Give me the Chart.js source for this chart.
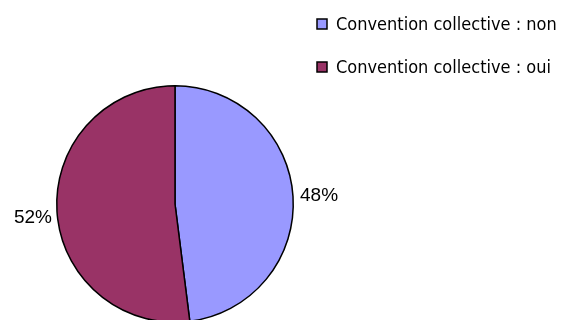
<!DOCTYPE html>
<html>
<head>
<meta charset="utf-8">
<script src="https://cdn.jsdelivr.net/npm/chart.js@4.4.0/dist/chart.umd.min.js"></script>
<style>
    html, body { margin: 0; padding: 0; background: #ffffff; overflow: hidden; }
    /* a bit taller than the window so the bottom of the pie is cut off */
    #chartBox { width: 569px; height: 325px; }
</style>
</head>
<body>
<div id="chartBox"><canvas id="pieChartCanvas"></canvas></div>
<script>
// Data for the pie
var labels = ['Convention collective : non', 'Convention collective : oui'];
var percentages = [48, 52];
var sliceColors = ['#9999FF', '#993366'];

// Plugin to draw the percent labels beside each slice
var percentLabels = {
    id: 'percentLabels',
    afterDatasetsDraw: function(chart) {
        var ctx = chart.ctx;
        var arcs = chart.getDatasetMeta(0).data;
        ctx.save();
        ctx.fillStyle = '#000000';
        ctx.font = '19px "Liberation Sans", Arial, sans-serif';
        ctx.textBaseline = 'middle';
        for (var i = 0; i < arcs.length; i++) {
            var arc = arcs[i];
            var mid = (arc.startAngle + arc.endAngle) / 2;
            var right = Math.cos(mid) >= 0;
            var r = arc.outerRadius + (right ? 7 : 5);
            var x = arc.x + Math.cos(mid) * r;
            var y = arc.y + Math.sin(mid) * r;
            ctx.textAlign = right ? 'left' : 'right';
            // left side label sits a little lower
            if (!right) y += 6;
            ctx.fillText(percentages[i] + '%', x, y);
        }
        ctx.restore();
    }
};

// Plugin to draw the legend in the top right corner
var sideLegend = {
    id: 'sideLegend',
    afterDraw: function(chart) {
        var ctx = chart.ctx;
        ctx.save();
        ctx.font = '18px "DejaVu Sans Condensed", "DejaVu Sans", sans-serif';
        ctx.textAlign = 'left';
        ctx.textBaseline = 'middle';
        for (var i = 0; i < labels.length; i++) {
            var y = 24 + i * 43;
            ctx.fillStyle = sliceColors[i];
            ctx.fillRect(317, y - 5, 10, 10);
            ctx.strokeStyle = '#000000';
            ctx.lineWidth = 1.5;
            ctx.strokeRect(317, y - 5, 10, 10);
            ctx.fillStyle = '#000000';
            ctx.fillText(labels[i], 336, y + 1);
        }
        ctx.restore();
    }
};

var ctx = document.getElementById('pieChartCanvas').getContext('2d');
var pieChart = new Chart(ctx, {
    type: 'pie',
    data: {
        labels: labels,
        datasets: [{
            data: percentages,
            backgroundColor: sliceColors,
            borderColor: '#000000',
            borderWidth: 1.5,
            borderAlign: 'center'
        }]
    },
    options: {
        responsive: true,
        maintainAspectRatio: false,
        animation: false,
        layout: {
            padding: { left: 55, right: 274, top: 85, bottom: 2 }
        },
        plugins: {
            legend: { display: false },
            tooltip: { enabled: false }
        }
    },
    plugins: [percentLabels, sideLegend]
});
</script>
</body>
</html>
